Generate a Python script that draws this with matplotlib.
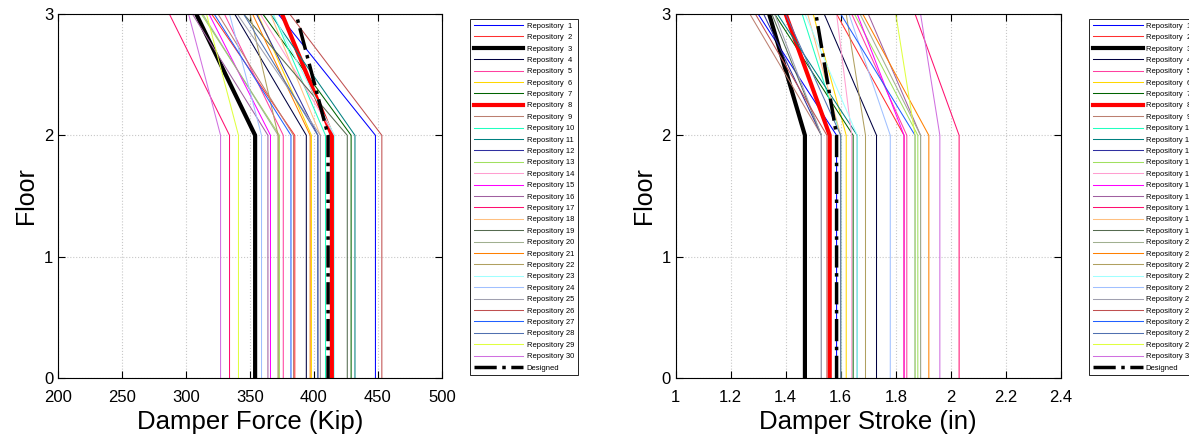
import numpy as np
import matplotlib.pyplot as plt

plt.rcParams['font.family'] = ['Liberation Sans', 'DejaVu Sans']

colors = ['#0000ff', '#ff3030', '#000000', '#000040', '#ff40a0', '#ffd700',
          '#006400', '#ff0000', '#bc7f70', '#20ffc0', '#008080', '#3030a0',
          '#a0e060', '#ff9ed0', '#ff00ff', '#a060a0', '#ff1070', '#ffc080',
          '#556b50', '#a0b090', '#ff8000', '#b0a060', '#a0ffff', '#a0c0ff',
          '#a0a0b0', '#c05050', '#2060ff', '#5070b0', '#e0ff40', '#d070e0']

# damper force (kip): floors 0-2 value, floor 3 value
force_low = [448, 385, 354, 394, 376, 398, 429, 414, 384, 409,
             432, 403, 373, 416, 366, 364, 334, 405, 426, 372,
             397, 372, 416, 359, 405, 453, 382, 403, 341, 327]
force_top = [372, 320, 308, 338, 330, 356, 360, 375, 325, 368,
             366, 355, 312, 358, 318, 305, 287, 366, 345, 313,
             352, 350, 368, 334, 340, 381, 322, 345, 316, 302]
force_design = [411, 386]

# damper stroke (in)
stroke_low = [1.585, 1.83, 1.47, 1.73, 1.84, 1.62, 1.645, 1.56, 1.53, 1.60,
              1.66, 1.53, 1.88, 1.64, 1.83, 1.89, 2.03, 1.60, 1.53, 1.89,
              1.92, 1.69, 1.66, 1.78, 1.53, 1.55, 1.87, 1.60, 1.87, 1.96]
stroke_top = [1.30, 1.585, 1.34, 1.54, 1.64, 1.50, 1.36, 1.40, 1.27, 1.46,
              1.37, 1.32, 1.65, 1.585, 1.66, 1.70, 1.87, 1.48, 1.35, 1.67,
              1.68, 1.62, 1.47, 1.63, 1.36, 1.29, 1.60, 1.40, 1.80, 1.89]
stroke_design = [1.585, 1.51]

floors = [0, 2, 3]
thick = [2, 7]  # repository 3 and 8

fig = plt.figure(figsize=(11.89, 4.38), dpi=100)
ax1 = fig.add_axes([58/1189, 60/438, 384/1189, 364/438])
ax2 = fig.add_axes([675.5/1189, 60/438, 385.5/1189, 364/438])


def draw(ax, low, top, design, xlim, xticks, xlabel, xtl):
    for i in range(30):
        lw = 3 if i in thick else 0.75
        ax.plot([low[i], low[i], top[i]], floors, color=colors[i], linewidth=lw,
                label="Repository %2d" % (i+1))
    ax.plot([design[0], design[0], design[1]], floors, color='k', linewidth=2.5,
            linestyle='-.', label="Designed")
    ax.set_xlim(xlim)
    ax.set_ylim([0, 3])
    ax.set_xticks(xticks)
    ax.set_xticklabels(xtl)
    ax.set_yticks([0, 1, 2, 3])
    ax.grid(True, linestyle=':', color='#c8c8c8', linewidth=0.8)
    ax.tick_params(direction='in', top=True, right=True, labelsize=12, length=5)
    ax.tick_params(axis='x', pad=9)
    ax.set_xlabel(xlabel, fontsize=18.5, labelpad=3)
    ax.set_ylabel("Floor", fontsize=18)
    leg = ax.legend(loc='upper left', bbox_to_anchor=(1.063, 0.998), fontsize=5.5,
                    labelspacing=0.53, handlelength=6.5, handletextpad=0.4,
                    borderpad=0.5, fancybox=False, edgecolor='k', framealpha=1)
    leg.get_frame().set_linewidth(0.6)


draw(ax1, force_low, force_top, force_design, [200, 500],
     np.arange(200, 501, 50), "Damper Force (Kip)",
     [str(v) for v in range(200, 501, 50)])
draw(ax2, stroke_low, stroke_top, stroke_design, [1, 2.4],
     np.arange(1, 2.41, 0.2), "Damper Stroke (in)",
     ['1', '1.2', '1.4', '1.6', '1.8', '2', '2.2', '2.4'])

fig.savefig('out.png', dpi=100)
